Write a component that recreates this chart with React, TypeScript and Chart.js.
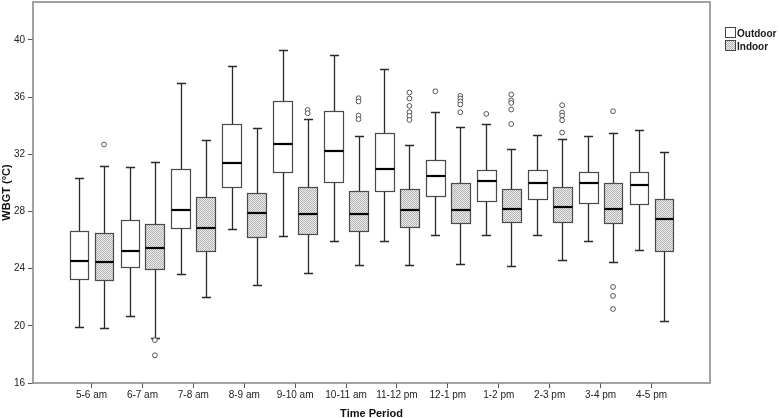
import React, { useEffect, useRef } from 'react';
import { Chart, registerables } from 'chart.js';

Chart.register(...registerables);

const FONT = "'Liberation Sans', Arial, sans-serif";

const categories = ['5-6 am', '6-7 am', '7-8 am', '8-9 am', '9-10 am', '10-11 am', '11-12 pm', '12-1 pm', '1-2 pm', '2-3 pm', '3-4 pm', '4-5 pm'];
const yTicks = [16, 20, 24, 28, 32, 36, 40];
const seriesNames = ['Outdoor', 'Indoor'];

const outdoorMin = [19.94, 20.69, 23.6, 26.78, 26.29, 25.96, 25.92, 26.34, 26.38, 26.38, 25.96, 25.33];
const outdoorQ1 = [23.28, 24.12, 26.83, 29.72, 30.77, 30.09, 29.46, 29.09, 28.72, 28.86, 28.62, 28.51];
const outdoorMedian = [24.56, 25.26, 28.08, 31.4, 32.7, 32.26, 30.98, 30.51, 30.14, 30.02, 30.02, 29.86];
const outdoorQ3 = [26.62, 27.43, 31.0, 34.15, 35.71, 35.01, 33.52, 31.58, 30.93, 30.93, 30.79, 30.79];
const outdoorMax = [30.35, 31.12, 36.97, 38.16, 39.3, 38.97, 37.93, 34.94, 34.15, 33.35, 33.26, 33.68];
const outdoorOutliers = [[], [], [], [], [], [], [], [36.41], [34.82], [], [], []];

const indoorMin = [19.87, 19.13, 22.02, 22.88, 23.72, 24.26, 24.26, 24.3, 24.19, 24.61, 24.49, 20.36];
const indoorQ1 = [23.19, 23.96, 25.24, 26.22, 26.4, 26.66, 26.92, 27.22, 27.24, 27.29, 27.22, 25.22];
const indoorMedian = [24.49, 25.47, 26.85, 27.87, 27.85, 27.8, 28.11, 28.11, 28.15, 28.32, 28.18, 27.46];
const indoorQ3 = [26.47, 27.15, 29.0, 29.32, 29.72, 29.46, 29.6, 29.97, 29.55, 29.74, 30.0, 28.9];
const indoorMax = [31.19, 31.47, 33.03, 33.87, 34.45, 33.28, 32.68, 33.94, 32.4, 33.1, 33.47, 32.14];
const indoorOutliers = [
  [32.68],
  [19.0, 17.94],
  [],
  [],
  [35.1, 34.87],
  [35.92, 35.69, 34.71, 34.45],
  [36.32, 35.9, 35.38, 34.94, 34.68, 34.4],
  [36.08, 35.9, 35.69, 35.48, 34.94],
  [36.18, 35.76, 35.59, 35.13, 34.12],
  [35.43, 34.92, 34.71, 34.38, 33.52],
  [35.01, 22.72, 22.09, 21.18],
  [],
];

const GROUP_OFFSET = 0.245;
const BOX_WIDTH = 0.37;
const CAP_WIDTH = 0.18;

export default function App() {
  const ref = useRef<HTMLCanvasElement>(null);

  useEffect(() => {
    const canvas = ref.current!;
    const pc = document.createElement('canvas');
    pc.width = 2;
    pc.height = 2;
    const pctx = pc.getContext('2d')!;
    pctx.fillStyle = '#eeeeee';
    pctx.fillRect(0, 0, 2, 2);
    pctx.fillStyle = '#b2b2b2';
    pctx.fillRect(0, 0, 1, 1);
    pctx.fillRect(1, 1, 1, 1);
    const pattern = canvas.getContext('2d')!.createPattern(pc, 'repeat')!;

    const series = [
      { name: seriesNames[0], offset: -GROUP_OFFSET, min: outdoorMin, q1: outdoorQ1, med: outdoorMedian, q3: outdoorQ3, max: outdoorMax, outliers: outdoorOutliers, fill: '#ffffff' as any },
      { name: seriesNames[1], offset: GROUP_OFFSET, min: indoorMin, q1: indoorQ1, med: indoorMedian, q3: indoorQ3, max: indoorMax, outliers: indoorOutliers, fill: pattern as any },
    ];

    const snap = (v: number) => Math.round(v) + 0.5;

    const boxPlugin = {
      id: 'boxes',
      beforeDatasetsDraw(chart: any) {
        const { ctx, scales } = chart;
        const x = scales.x;
        const y = scales.y;
        const pxPerUnit = x.getPixelForValue(1) - x.getPixelForValue(0);
        const halfBox = (BOX_WIDTH * pxPerUnit) / 2;
        const halfCap = (CAP_WIDTH * pxPerUnit) / 2;
        ctx.save();
        series.forEach((s) => {
          categories.forEach((_, i) => {
            const xc = x.getPixelForValue(i + s.offset);
            const xs = snap(xc);
            const yMin = snap(y.getPixelForValue(s.min[i]));
            const yQ1 = snap(y.getPixelForValue(s.q1[i]));
            const yMed = y.getPixelForValue(s.med[i]);
            const yQ3 = snap(y.getPixelForValue(s.q3[i]));
            const yMax = snap(y.getPixelForValue(s.max[i]));
            ctx.strokeStyle = '#2a2a2a';
            ctx.lineWidth = 1.3;
            ctx.beginPath();
            ctx.moveTo(xs, yQ3);
            ctx.lineTo(xs, yMax);
            ctx.moveTo(xs, yQ1);
            ctx.lineTo(xs, yMin);
            ctx.moveTo(xs - halfCap, yMax);
            ctx.lineTo(xs + halfCap, yMax);
            ctx.moveTo(xs - halfCap, yMin);
            ctx.lineTo(xs + halfCap, yMin);
            ctx.stroke();
            const left = snap(xc - halfBox);
            const right = snap(xc + halfBox);
            ctx.fillStyle = s.fill;
            ctx.fillRect(left, yQ3, right - left, yQ1 - yQ3);
            ctx.strokeStyle = '#4a4a4a';
            ctx.lineWidth = 1.2;
            ctx.strokeRect(left, yQ3, right - left, yQ1 - yQ3);
            ctx.strokeStyle = '#000000';
            ctx.lineWidth = 2.2;
            ctx.beginPath();
            ctx.moveTo(left, Math.round(yMed));
            ctx.lineTo(right, Math.round(yMed));
            ctx.stroke();
          });
        });
        ctx.restore();
      },
      afterDraw(chart: any) {
        const { ctx, chartArea } = chart;
        ctx.save();
        ctx.strokeStyle = '#8c8c8c';
        ctx.lineWidth = 1.6;
        ctx.strokeRect(chartArea.left, chartArea.top, chartArea.right - chartArea.left, chartArea.bottom - chartArea.top);
        const lx = 725;
        const rows = [27, 40];
        series.forEach((s, k) => {
          ctx.fillStyle = s.fill;
          ctx.fillRect(lx + 0.5, rows[k] + 0.5, 10, 10);
          ctx.strokeStyle = '#444444';
          ctx.lineWidth = 1;
          ctx.strokeRect(lx + 0.5, rows[k] + 0.5, 10, 10);
          ctx.fillStyle = '#1a1a1a';
          ctx.font = `bold 10px ${FONT}`;
          ctx.textBaseline = 'alphabetic';
          ctx.textAlign = 'left';
          ctx.fillText(s.name, lx + 12, rows[k] + 10);
        });
        ctx.restore();
      },
    };

    const datasets = series.map((s) => ({
      label: s.name,
      data: s.outliers.flatMap((arr, i) => arr.map((v) => ({ x: i + s.offset, y: v }))),
      pointStyle: 'circle',
      pointRadius: 2.4,
      pointBorderWidth: 1,
      pointBorderColor: '#555555',
      pointBackgroundColor: '#ffffff',
      showLine: false,
    }));

    const chart = new Chart(canvas, {
      type: 'scatter',
      data: { datasets },
      options: {
        responsive: false,
        animation: false,
        devicePixelRatio: 1,
        layout: { autoPadding: false, padding: { left: 0, top: 2, right: 70, bottom: 0 } },
        plugins: { legend: { display: false }, tooltip: { enabled: false } },
        scales: {
          x: {
            type: 'linear',
            min: -1.15,
            max: 12.15,
            afterBuildTicks: (s: any) => {
              s.ticks = categories.map((_, i) => ({ value: i }));
            },
            afterFit: (s: any) => {
              s.height = 35;
              s.paddingLeft = 0;
              s.paddingRight = 0;
            },
            ticks: {
              autoSkip: false,
              maxRotation: 0,
              minRotation: 0,
              padding: 1,
              color: '#222222',
              font: { family: FONT, size: 10 },
              callback: (v: any) => categories[v] ?? '',
            },
            grid: { drawOnChartArea: false, tickLength: 5, color: '#555555' },
            border: { display: false },
            title: { display: true, text: 'Time Period', color: '#111111', padding: 0, font: { family: FONT, size: 11, weight: 'bold', lineHeight: 0.8 } },
          },
          y: {
            type: 'linear',
            min: 16,
            max: 42.65,
            afterBuildTicks: (s: any) => {
              s.ticks = yTicks.map((v) => ({ value: v }));
            },
            afterFit: (s: any) => {
              s.width = 33;
              s.paddingTop = 0;
              s.paddingBottom = 0;
            },
            ticks: { padding: 3, color: '#222222', font: { family: FONT, size: 10 } },
            grid: { drawOnChartArea: false, tickLength: 5, color: '#555555' },
            border: { display: false },
            title: { display: true, text: 'WBGT (°C)', color: '#111111', padding: 0, font: { family: FONT, size: 11, weight: 'bold', lineHeight: 1.2 } },
          },
        },
      },
      plugins: [boxPlugin],
    } as any);

    return () => chart.destroy();
  }, []);

  return (
    <div style={{ position: 'absolute', left: 0, top: 0, width: 780, height: 418, background: '#ffffff' }}>
      <canvas ref={ref} width={780} height={418} style={{ display: 'block', width: 780, height: 418 }} />
    </div>
  );
}
